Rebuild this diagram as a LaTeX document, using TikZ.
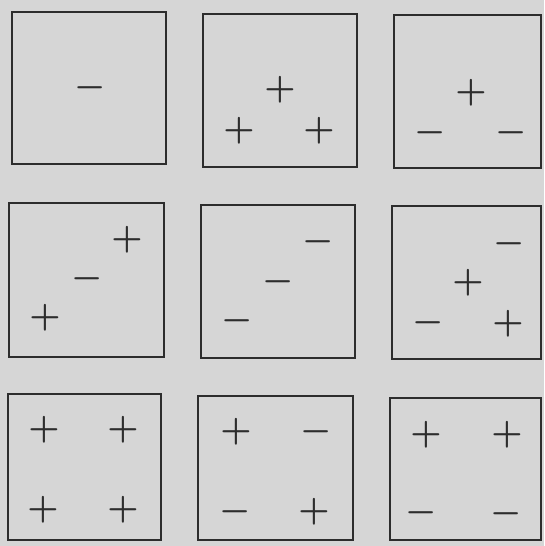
\documentclass[tikz,border=0pt]{standalone}
\definecolor{paper}{RGB}{214,214,214}
\definecolor{ink}{RGB}{45,45,45}
\tikzset{
  frame/.style={draw=ink, line width=1.2pt},
  pl/.style={inner sep=0pt, outer sep=0pt, text=ink, scale=3.5, font=\boldmath},
  mi/.style={inner sep=0pt, outer sep=0pt, text=ink, scale=3.5, font=\boldmath}
}
\begin{document}
\begin{tikzpicture}[x=1pt,y=-1pt]
\fill[paper] (0,0) rectangle (544,546);
\useasboundingbox (0,0) rectangle (544,546);
% row 1
\draw[frame] (12,12) rectangle (166,164);
\draw[frame] (203,14) rectangle (357,167);
\draw[frame] (394,15) rectangle (541,168);
% row 2
\draw[frame] (9,203) rectangle (164,357);
\draw[frame] (201,205) rectangle (355,358);
\draw[frame] (392,206) rectangle (541,359);
% row 3
\draw[frame] (8,394) rectangle (161,540);
\draw[frame] (198,396) rectangle (353,540);
\draw[frame] (390,398) rectangle (541,540);
% box 1
\node[mi] (a1) at (90,88) {$-$};
% box 2
\node[pl] (b1) at (280,90) {$+$};
\node[pl] (b2) at (239,131) {$+$};
\node[pl] (b3) at (319,131) {$+$};
% box 3
\node[pl] (c1) at (471,93) {$+$};
\node[mi] (c2) at (430,133) {$-$};
\node[mi] (c3) at (511,133) {$-$};
% box 4
\node[pl] (d1) at (127,240) {$+$};
\node[mi] (d2) at (87,279) {$-$};
\node[pl] (d3) at (45,318) {$+$};
% box 5
\node[mi] (e1) at (318,242) {$-$};
\node[mi] (e2) at (278,282) {$-$};
\node[mi] (e3) at (237,321) {$-$};
% box 6
\node[mi] (f1) at (509,244) {$-$};
\node[pl] (f2) at (468,283) {$+$};
\node[mi] (f3) at (428,323) {$-$};
\node[pl] (f4) at (508,324) {$+$};
% box 7
\node[pl] (g1) at (44,430) {$+$};
\node[pl] (g2) at (123,430) {$+$};
\node[pl] (g3) at (43,510) {$+$};
\node[pl] (g4) at (123,510) {$+$};
% box 8
\node[pl] (h1) at (236,432) {$+$};
\node[mi] (h2) at (316,432) {$-$};
\node[mi] (h3) at (235,512) {$-$};
\node[pl] (h4) at (314,512) {$+$};
% box 9
\node[pl] (i1) at (426,435) {$+$};
\node[pl] (i2) at (507,435) {$+$};
\node[mi] (i3) at (421,513) {$-$};
\node[mi] (i4) at (506,514) {$-$};
\end{tikzpicture}
\end{document}
